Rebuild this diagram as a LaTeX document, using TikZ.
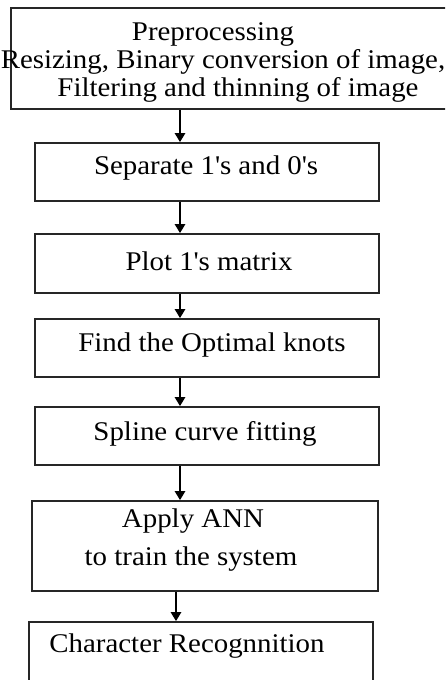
\documentclass[tikz,border=0pt]{standalone}
\usepackage{fontspec}
\setmainfont{Liberation Serif}[FakeStretch=1.07]
\usetikzlibrary{arrows.meta}
\begin{document}
\begin{tikzpicture}[x=1pt,y=1pt,
  box/.style={draw=black!85, line width=1.6pt, rectangle, inner sep=0pt},
  txt/.style={anchor=base, inner sep=0pt, font=\fontsize{27}{28}\selectfont},
  arr/.style={line width=2.2pt, -{Triangle[width=10pt,length=9pt]}}]
\useasboundingbox (0,0) rectangle (445,-680);
\clip (0,0) rectangle (445,-680);
% boxes
\node[box, minimum width=446pt, minimum height=101pt] (b1) at (234,-58.5) {};
\node[box, minimum width=344pt, minimum height=58pt] (b2) at (207,-172) {};
\node[box, minimum width=344pt, minimum height=59pt] (b3) at (207,-263.5) {};
\node[box, minimum width=344pt, minimum height=58pt] (b4) at (207,-348) {};
\node[box, minimum width=344pt, minimum height=58pt] (b5) at (207,-436) {};
\node[box, minimum width=346pt, minimum height=90pt] (b6) at (205,-546) {};
\node[box, minimum width=344pt, minimum height=80pt] (b7) at (201,-662) {};
% texts
\node[txt] (t1a) at (213,-40.5) {Preprocessing};
\node[txt] (t1b) at (223,-68.5) {Resizing, Binary conversion of image,};
\node[txt] (t1c) at (238,-96.5) {Filtering and thinning of image};
\node[txt] (t2) at (206,-174) {Separate 1\textquotesingle s and 0\textquotesingle s};
\node[txt] (t3) at (209,-270) {Plot 1\textquotesingle s matrix};
\node[txt] (t4) at (212,-351) {Find the Optimal knots};
\node[txt] (t5) at (205,-440) {Spline curve fitting};
\node[txt] (t6a) at (193,-527) {Apply ANN};
\node[txt] (t6b) at (191,-565) {to train the system};
\node[txt] (t7) at (187,-652) {Character Recognnition};
% arrows
\coordinate (c1) at (180,0);
\coordinate (c6) at (176,0);
\draw[arr] (b1.south -| c1) -- (b2.north -| c1);
\draw[arr] (b2.south -| c1) -- (b3.north -| c1);
\draw[arr] (b3.south -| c1) -- (b4.north -| c1);
\draw[arr] (b4.south -| c1) -- (b5.north -| c1);
\draw[arr] (b5.south -| c1) -- (b6.north -| c1);
\draw[arr] (b6.south -| c6) -- (b7.north -| c6);
\end{tikzpicture}
\end{document}
